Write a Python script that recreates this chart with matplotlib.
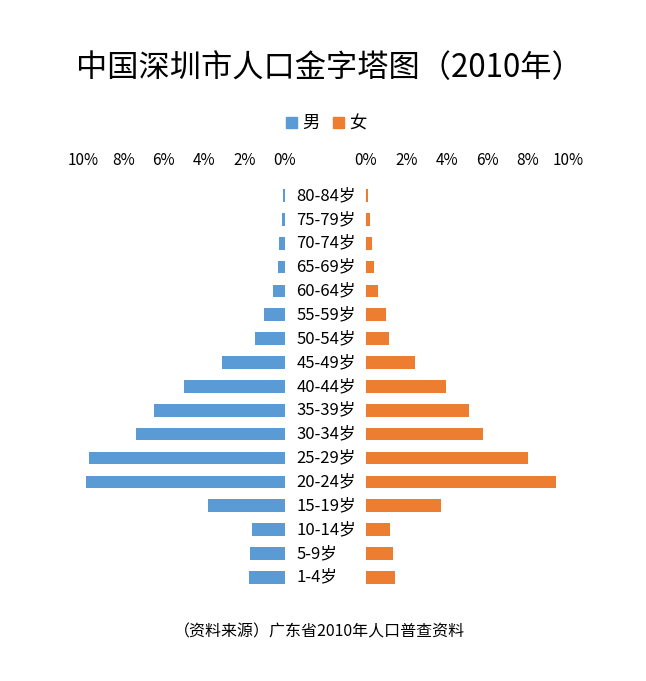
import matplotlib
matplotlib.use("Agg")
import matplotlib.pyplot as plt
from matplotlib.patches import Patch

plt.rcParams["font.family"] = ["Noto Sans CJK SC", "DejaVu Sans"]

# age groups, top to bottom as drawn
ages = ["80-84岁", "75-79岁", "70-74岁", "65-69岁", "60-64岁", "55-59岁",
        "50-54岁", "45-49岁", "40-44岁", "35-39岁", "30-34岁", "25-29岁",
        "20-24岁", "15-19岁", "10-14岁", "5-9岁", "1-4岁"]
male = [0.09, 0.17, 0.29, 0.36, 0.60, 1.04, 1.48, 3.12, 4.99, 6.47, 7.36,
        9.69, 9.84, 3.80, 1.62, 1.72, 1.78]
female = [0.09, 0.20, 0.31, 0.41, 0.60, 1.00, 1.14, 2.44, 3.97, 5.11, 5.79,
          8.02, 9.40, 3.71, 1.19, 1.35, 1.45]
ticks = [0, 2, 4, 6, 8, 10]
tick_labels = [f"{t}%" for t in ticks]

blue = "#5B9BD5"
orange = "#ED7D31"

fig = plt.figure(figsize=(6.46, 6.81), dpi=100)
ax_m = fig.add_axes([0.1285, 0.1348, 0.3127, 0.5956])
ax_f = fig.add_axes([0.5666, 0.1348, 0.3127, 0.5956])

ypos = list(range(len(ages)))
ax_m.barh(ypos, male, height=0.53, color=blue)
ax_f.barh(ypos, female, height=0.53, color=orange)

for ax in (ax_m, ax_f):
    ax.set_xlim(0, 10)
    ax.set_ylim(len(ages) - 0.5, -0.5)
    ax.set_xticks(ticks)
    ax.set_xticklabels(tick_labels, fontsize=11)
    ax.xaxis.tick_top()
    ax.tick_params(axis="x", length=0, pad=10.5)
    ax.set_yticks([])
    for s in ax.spines.values():
        s.set_visible(False)
ax_m.invert_xaxis()

# age labels in the gap between the two halves, left aligned
for y, lab in zip(ypos, ages):
    ax_m.text(-0.55, y, lab, ha="left", va="center", fontsize=12,
              clip_on=False)

fig.text(0.51, 0.900, "中国深圳市人口金字塔图（2010年）", ha="center", va="center",
         fontsize=22.5)

handles = [Patch(color=blue, label="男"), Patch(color=orange, label="女")]
fig.legend(handles=handles, loc="center", bbox_to_anchor=(0.505, 0.819), ncol=2,
           frameon=False, fontsize=12.5, handlelength=0.6, handleheight=0.6,
           handletextpad=0.3, columnspacing=0.8)

fig.text(0.494, 0.072, "（资料来源）广东省2010年人口普查资料", ha="center", va="center",
         fontsize=11.5)

fig.savefig("out.png", dpi=100)
